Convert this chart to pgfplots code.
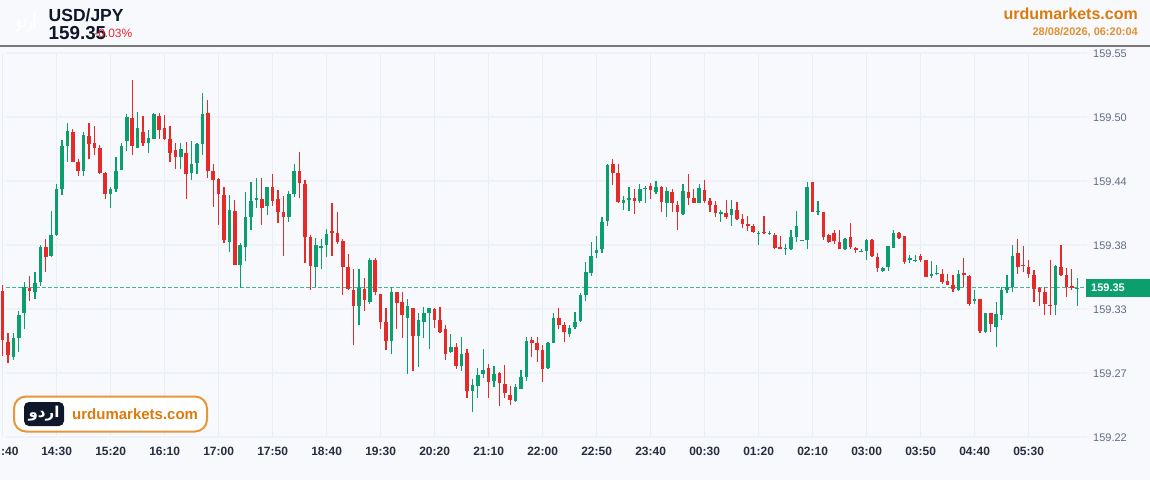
\documentclass[border=0pt]{standalone}
\usepackage{pgfplots}
\usepackage{pgfplotstable}
\usepackage{fontspec}
\pgfplotsset{compat=1.18}
\setmainfont{Liberation Sans}
\newfontfamily\arabicfont[Script=Arabic]{DejaVu Sans}
\TeXXeTstate=1
\definecolor{bgc}{HTML}{F7F9FD}
\definecolor{upc}{HTML}{0C9F6E}
\definecolor{dnc}{HTML}{E52A2A}
\definecolor{gridh}{HTML}{EFF2F8}
\definecolor{gridv}{HTML}{E6EEF7}
\definecolor{orangec}{HTML}{DB7B0E}
\definecolor{ylab}{HTML}{5F6C85}
\definecolor{navy}{HTML}{0F172A}
\definecolor{pline}{HTML}{3FB68F}
\pgfplotstableread{
i o h l c
2 159.2890 159.3094 159.2862 159.3051
3 159.3051 159.3286 159.2933 159.3249
4 159.3268 159.3532 159.3129 159.3492
6 159.3443 159.3620 159.3383 159.3521
7 159.3534 159.3850 159.3500 159.3835
9 159.3758 159.4142 159.3750 159.3936
10 159.3936 159.4374 159.3928 159.4329
11 159.4329 159.4752 159.4280 159.4703
12 159.4703 159.4896 159.4565 159.4830
15 159.4486 159.4824 159.4446 159.4795
20 159.4288 159.4351 159.4171 159.4329
21 159.4329 159.4604 159.4308 159.4486
22 159.4495 159.4724 159.4492 159.4703
23 159.4744 159.4973 159.4660 159.4953
25 159.4686 159.4990 159.4684 159.4853
27 159.4724 159.4838 159.4643 159.4772
28 159.4761 159.4982 159.4758 159.4973
33 159.4604 159.4724 159.4503 159.4675
35 159.4466 159.4744 159.4409 159.4546
36 159.4557 159.4724 159.4458 159.4722
37 159.4715 159.5154 159.4623 159.4976
42 159.3878 159.4280 159.3787 159.4151
44 159.3678 159.3867 159.3483 159.3850
45 159.3835 159.4303 159.3715 159.4093
46 159.4093 159.4389 159.3979 159.4231
47 159.4239 159.4428 159.4171 159.4251
49 159.4185 159.4351 159.4108 159.4346
53 159.4093 159.4314 159.4050 159.4288
54 159.4288 159.4546 159.4260 159.4486
58 159.3661 159.3913 159.3486 159.3850
59 159.3827 159.3902 159.3641 159.3839
60 159.3850 159.3988 159.3749 159.3945
66 159.3329 159.3641 159.3163 159.3483
68 159.3363 159.3736 159.3343 159.3721
72 159.3028 159.3486 159.2911 159.3443
75 159.3225 159.3386 159.2741 159.3326
77 159.3071 159.3268 159.2804 159.3206
78 159.3188 159.3315 159.3048 159.3266
79 159.3266 159.3309 159.2959 159.3306
83 159.2928 159.3083 159.2924 159.2971
85 159.2810 159.3057 159.2770 159.2913
87 159.2595 159.2698 159.2417 159.2647
88 159.2638 159.2791 159.2538 159.2733
89 159.2741 159.2954 159.2704 159.2776
91 159.2684 159.2813 159.2632 159.2744
95 159.2509 159.2653 159.2503 159.2627
96 159.2613 159.2776 159.2610 159.2713
97 159.2718 159.3057 159.2684 159.3028
101 159.2791 159.3019 159.2784 159.3011
102 159.3011 159.3268 159.3008 159.3225
105 159.3088 159.3160 159.3062 159.3134
106 159.3145 159.3277 159.3129 159.3186
107 159.3200 159.3440 159.3191 159.3423
108 159.3420 159.3704 159.3371 159.3620
109 159.3607 159.3873 159.3586 159.3758
110 159.3779 159.3927 159.3741 159.3807
111 159.3818 159.4093 159.3784 159.4045
112 159.4056 159.4546 159.4013 159.4538
115 159.4211 159.4271 159.4151 159.4239
116 159.4239 159.4348 159.4142 159.4251
118 159.4228 159.4372 159.4211 159.4329
119 159.4331 159.4357 159.4211 159.4340
121 159.4308 159.4400 159.4288 159.4348
123 159.4211 159.4348 159.4090 159.4311
126 159.4120 159.4372 159.4111 159.4311
129 159.4211 159.4372 159.4208 159.4340
133 159.4114 159.4151 159.4050 159.4134
135 159.4111 159.4234 159.4013 159.4160
140 159.3947 159.3973 159.3853 159.3956
142 159.3947 159.3968 159.3936 159.3956
145 159.3818 159.3859 159.3767 159.3827
146 159.3815 159.3979 159.3807 159.3916
147 159.3916 159.4142 159.3876 159.4013
148 159.3887 159.3897 159.3884 159.3896
149 159.3896 159.4389 159.3815 159.4348
151 159.4134 159.4231 159.4111 159.4140
156 159.3815 159.3908 159.3807 159.3902
159 159.3792 159.3813 159.3790 159.3798
160 159.3798 159.3902 159.3721 159.3896
163 159.3626 159.3664 159.3620 159.3652
164 159.3661 159.3841 159.3629 159.3839
165 159.3827 159.3976 159.3824 159.3956
168 159.3719 159.3764 159.3695 159.3738
169 159.3713 159.3762 159.3701 159.3721
172 159.3586 159.3713 159.3569 159.3601
173 159.3601 159.3678 159.3590 159.3609
177 159.3463 159.3635 159.3455 159.3598
180 159.3369 159.3463 159.3343 159.3383
182 159.3105 159.3266 159.3091 159.3264
184 159.3148 159.3363 159.2971 159.3257
185 159.3249 159.3486 159.3206 159.3463
186 159.3463 159.3592 159.3435 159.3486
187 159.3486 159.3850 159.3443 159.3758
195 159.3337 159.3678 159.3246 159.3670
199 159.3478 159.3564 159.3326 159.3483
}\upT
\pgfplotstableread{
i o h l c
0 159.3457 159.3506 159.2899 159.3034
1 159.3019 159.3094 159.2836 159.2905
5 159.3483 159.3584 159.3371 159.3454
8 159.3830 159.3902 159.3620 159.3749
13 159.4821 159.4845 159.4562 159.4565
14 159.4565 159.4586 159.4446 159.4486
16 159.4787 159.4901 159.4586 159.4715
17 159.4724 159.4873 159.4623 159.4686
18 159.4686 159.4710 159.4464 159.4466
19 159.4466 159.4480 159.4246 159.4288
24 159.4939 159.5268 159.4623 159.4703
26 159.4824 159.4959 159.4703 159.4724
29 159.4959 159.4982 159.4761 159.4838
30 159.4853 159.4967 159.4752 159.4761
31 159.4761 159.4873 159.4565 159.4643
32 159.4666 159.4724 159.4503 159.4604
34 159.4643 159.4733 159.4246 159.4458
38 159.4982 159.5096 159.4428 159.4486
39 159.4486 159.4546 159.4180 159.4409
40 159.4417 159.4428 159.4022 159.4288
41 159.4280 159.4351 159.3867 159.3893
43 159.4142 159.4237 159.3676 159.3678
48 159.4243 159.4428 159.4022 159.4171
50 159.4346 159.4458 159.4185 159.4231
51 159.4243 159.4323 159.4042 159.4131
52 159.4131 159.4271 159.3758 159.4093
55 159.4486 159.4645 159.4251 159.4380
56 159.4372 159.4409 159.3698 159.3916
57 159.3916 159.3936 159.3463 159.3672
61 159.3971 159.4208 159.3756 159.3953
62 159.3956 159.4131 159.3859 159.3878
63 159.3887 159.3899 159.3420 159.3661
64 159.3661 159.3770 159.3463 159.3472
65 159.3463 159.3641 159.2991 159.3329
67 159.3472 159.3564 159.3286 159.3377
69 159.3721 159.3736 159.3420 159.3443
70 159.3426 159.3429 159.3129 159.3191
71 159.3191 159.3311 159.2948 159.3028
73 159.3443 159.3446 159.3129 159.3354
74 159.3363 159.3443 159.3048 159.3249
76 159.3307 159.3309 159.2770 159.3071
80 159.3298 159.3309 159.3140 159.3206
81 159.3206 159.3315 159.3096 159.3105
82 159.3126 159.3160 159.2862 159.2913
84 159.2971 159.3011 159.2782 159.2810
86 159.2919 159.2954 159.2538 159.2595
90 159.2793 159.2825 159.2538 159.2675
92 159.2753 159.2756 159.2469 159.2667
93 159.2653 159.2816 159.2538 159.2576
94 159.2558 159.2638 159.2478 159.2518
98 159.3031 159.3057 159.2890 159.3011
99 159.3008 159.3057 159.2842 159.2951
100 159.2951 159.2991 159.2675 159.2784
103 159.3225 159.3309 159.3129 159.3165
104 159.3165 159.3191 159.3019 159.3100
113 159.4546 159.4590 159.4366 159.4466
114 159.4466 159.4546 159.4208 159.4220
117 159.4251 159.4329 159.4114 159.4231
120 159.4360 159.4380 159.4246 159.4323
122 159.4348 159.4357 159.4131 159.4222
124 159.4308 159.4329 159.4131 159.4211
125 159.4191 159.4231 159.3982 159.4134
127 159.4308 159.4460 159.4191 159.4251
128 159.4251 159.4329 159.4208 159.4211
130 159.4320 159.4409 159.4211 159.4231
131 159.4231 159.4251 159.4131 159.4191
132 159.4191 159.4231 159.4093 159.4125
134 159.4122 159.4234 159.4073 159.4090
136 159.4151 159.4222 159.4065 159.4073
137 159.4073 159.4114 159.3993 159.4033
138 159.4033 159.4097 159.3973 159.4013
139 159.4013 159.4033 159.3953 159.3964
141 159.3964 159.4097 159.3942 159.3953
143 159.3933 159.3953 159.3815 159.3824
144 159.3835 159.3927 159.3813 159.3815
150 159.4389 159.4391 159.4131 159.4134
152 159.4131 159.4134 159.3893 159.3916
153 159.3933 159.3942 159.3864 159.3873
154 159.3956 159.3976 159.3859 159.3884
155 159.3876 159.3976 159.3813 159.3815
157 159.3916 159.4036 159.3815 159.3835
158 159.3827 159.3829 159.3784 159.3807
161 159.3896 159.3899 159.3747 159.3756
162 159.3747 159.3779 159.3620 159.3650
166 159.3956 159.3962 159.3899 159.3913
167 159.3925 159.3927 159.3686 159.3706
170 159.3756 159.3770 159.3701 159.3721
171 159.3719 159.3721 159.3575 159.3578
174 159.3601 159.3644 159.3512 159.3532
175 159.3538 159.3601 159.3504 159.3509
176 159.3504 159.3592 159.3449 159.3472
178 159.3609 159.3738 159.3492 159.3592
179 159.3581 159.3592 159.3326 159.3340
181 159.3383 159.3386 159.3091 159.3111
183 159.3263 159.3266 159.3105 159.3169
188 159.3779 159.3902 159.3603 159.3664
189 159.3678 159.3839 159.3616 159.3670
190 159.3658 159.3721 159.3569 159.3601
191 159.3590 159.3635 159.3363 159.3472
192 159.3483 159.3492 159.3329 159.3446
193 159.3443 159.3486 159.3246 159.3343
194 159.3334 159.3721 159.3246 159.3326
196 159.3658 159.3850 159.3584 159.3590
197 159.3590 159.3650 159.3406 159.3486
198 159.3500 159.3644 159.3463 159.3478
}\dnT
\begin{document}
\begin{tikzpicture}[x=1pt,y=1pt]
\useasboundingbox (0,0) rectangle (1150,480);
\fill[bgc] (0,0) rectangle (1150,480);
\begin{axis}[
  at={(6pt,43pt)}, anchor=south west,
  scale only axis, width=1081pt, height=384pt,
  xmin=0.63, xmax=200.81, ymin=159.22, ymax=159.55,
  clip=false,
  axis line style={draw=none},
  tick style={draw=none},
  xtick={10,20,...,190},
  xticklabels={14:30,15:20,16:10,17:00,17:50,18:40,19:30,20:20,21:10,22:00,22:50,23:40,00:30,01:20,02:10,03:00,03:50,04:40,05:30},
  x tick label style={font=\fontsize{12}{14}\selectfont\bfseries, text=navy!90, yshift=-8.5pt, inner sep=1pt},
  ytick={159.22,159.275,159.33,159.385,159.44,159.495,159.55},
  yticklabels={159.22,159.27,159.33,159.38,159.44,159.50,159.55},
  yticklabel pos=right,
  y tick label style={font=\fontsize{11}{13}\selectfont, text=ylab, anchor=west, xshift=5pt, yshift=-0.5pt, inner sep=1pt},
  xmajorgrids, ymajorgrids,
  x grid style={gridv, line width=1pt},
  y grid style={gridh, line width=2pt},
]
\addplot[forget plot, gridv, line width=1pt] coordinates {(0,159.22) (0,159.55)};
% price line
\addplot[forget plot, pline, line width=1.3pt, dash pattern=on 4pt off 2pt] coordinates {(0.63,159.3484) (200.81,159.3484)};
% green wicks and bodies
\addplot[forget plot, draw=none, no marks, error bars/.cd, y dir=plus, y explicit, error mark=none, error bar style={upc, line width=1.1pt}]
  table[x=i, y=l, y error plus expr=\thisrow{h}-\thisrow{l}] {\upT};
\addplot[forget plot, draw=none, no marks, error bars/.cd, y dir=plus, y explicit, error mark=none, error bar style={upc, line width=3.6pt}]
  table[x=i, y=o, y error plus expr=\thisrow{c}-\thisrow{o}] {\upT};
% red wicks and bodies
\addplot[forget plot, draw=none, no marks, error bars/.cd, y dir=plus, y explicit, error mark=none, error bar style={dnc, line width=1.1pt}]
  table[x=i, y=l, y error plus expr=\thisrow{h}-\thisrow{l}] {\dnT};
\addplot[forget plot, draw=none, no marks, error bars/.cd, y dir=plus, y explicit, error mark=none, error bar style={dnc, line width=3.6pt}]
  table[x=i, y=c, y error plus expr=\thisrow{o}-\thisrow{c}] {\dnT};
\end{axis}
% ":40" cut tick label
\node[anchor=west, inner sep=0pt, text=navy!90, font=\fontsize{12}{14}\selectfont\bfseries] at (1,29) {:40};
% header
\draw[line width=2pt, color={rgb,255:red,120;green,120;blue,120}] (0,434.2) -- (1150,434.2);
\node[anchor=west, inner sep=0pt, text=navy, font=\fontsize{17.5}{20}\selectfont\bfseries] at (48.5,465) {USD/JPY};
\node[anchor=west, inner sep=0pt, text=navy, font=\fontsize{18.8}{20}\selectfont\bfseries] at (48.5,447) {159.35};
\node[anchor=east, inner sep=0pt, text=dnc, font=\fontsize{12}{14}\selectfont] at (132.5,447) {-0.03\%};
\node[anchor=center, inner sep=0pt, text=white, font=\fontsize{16}{20}\selectfont, xscale=0.62, yscale=1.3, transform shape] at (26,458) {\arabicfont\bfseries\beginR اردو\endR};
\node[anchor=east, inner sep=0pt, text=orangec, font=\fontsize{16}{18}\selectfont\bfseries] at (1138,466) {urdumarkets.com};
\node[anchor=east, inner sep=0pt, text=orangec!85, font=\fontsize{11}{13}\selectfont\bfseries] at (1138,448) {28/08/2026, 06:20:04};
% price tag
\fill[upc] (1086,183) rectangle (1150,201);
\node[anchor=west, inner sep=0pt, text=white, font=\fontsize{11}{13}\selectfont\bfseries] at (1091,192) {159.35};
% badge
\draw[fill=white, rounded corners=12pt, line width=2pt, draw={rgb,255:red,228;green,152;blue,58}] (14,48.5) rectangle (207,83.5);
\fill[navy, rounded corners=5pt] (24,54) rectangle (64,78);
\node[anchor=center, inner sep=0pt, text=white, font=\fontsize{15}{18}\selectfont] at (44,66) {\arabicfont\bfseries\beginR اردو\endR};
\node[anchor=west, inner sep=0pt, text=orangec, font=\fontsize{15}{17}\selectfont\bfseries] at (72,66) {urdumarkets.com};
\end{tikzpicture}
\end{document}
